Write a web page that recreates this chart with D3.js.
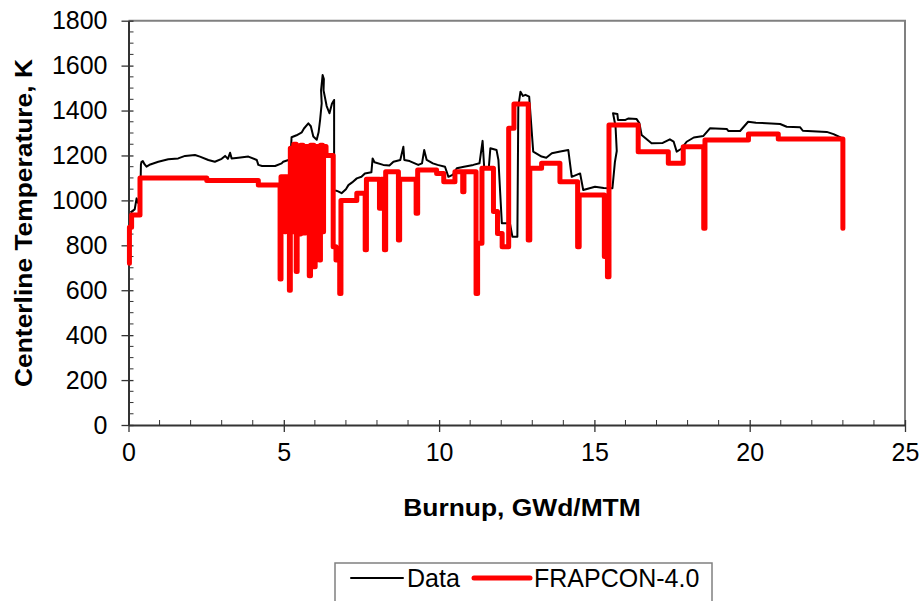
<!DOCTYPE html>
<html>
<head>
<meta charset="utf-8">
<script src="https://cdn.jsdelivr.net/npm/d3@7"></script>
<style>
  html, body { margin: 0; padding: 0; background: #fff; }
  svg { display: block; font-family: "Liberation Sans", Arial, sans-serif; }
</style>
</head>
<body>
<svg id="chart" width="923" height="601"></svg>
<script>
// ---------------- DATA ----------------
const xTicks = [0, 5, 10, 15, 20, 25];
const yTicks = [0, 200, 400, 600, 800, 1000, 1200, 1400, 1600, 1800];
const seriesNames = ["Data", "FRAPCON-4.0"];

// Measured centerline temperature (burnup GWd/MTM, K)
const dataBurnup = [0.08,0.10,0.2,0.26,0.3,0.38,0.40,0.42,0.46,0.52,0.58,0.7,0.96,1.28,1.6,1.82,2.14,2.3,2.57,2.78,3.0,3.11,3.2,3.27,3.32,3.54,3.86,4.13,4.18,4.3,4.72,4.93,4.98,5.15,5.22,5.25,5.41,5.58,5.65,5.79,5.87,5.95,6.06,6.12,6.17,6.22,6.20,6.25,6.29,6.28,6.38,6.47,6.55,6.62,6.62,6.75,6.86,7.0,7.08,7.2,7.35,7.5,7.61,7.82,7.86,7.92,8.2,8.4,8.53,8.75,8.85,8.88,9.05,9.33,9.45,9.52,9.6,9.8,9.95,10.19,10.3,10.45,10.57,10.8,11.1,11.3,11.4,11.45,11.6,11.65,11.85,11.91,12.02,12.28,12.36,12.52,12.55,12.62,12.70,12.78,12.90,13.03,13.3,13.45,13.63,13.9,14.16,14.27,14.54,14.64,15.02,15.3,15.58,15.66,15.72,15.68,15.6,15.74,15.76,16.0,16.1,16.36,16.45,16.52,16.84,17.2,17.43,17.55,17.65,17.8,17.97,18.2,18.51,18.72,19.26,19.31,19.69,19.95,20.2,20.98,21.19,21.62,21.71,22.48,22.7,22.91,23.0];
const dataTemp = [930,950,960,1009,990,1000,1160,1172,1175,1160,1150,1160,1172,1183,1187,1198,1202,1195,1180,1172,1185,1198,1185,1212,1187,1190,1195,1180,1158,1153,1153,1165,1172,1180,1195,1281,1290,1303,1320,1343,1330,1284,1270,1303,1360,1432,1490,1558,1540,1490,1420,1388,1430,1447,1046,1040,1032,1050,1068,1080,1098,1105,1120,1125,1187,1170,1158,1155,1172,1180,1239,1180,1175,1158,1165,1224,1180,1165,1158,1150,1105,1115,1143,1150,1158,1165,1265,1150,1145,1232,1224,1180,898,898,838,838,1417,1484,1465,1470,1462,1217,1195,1190,1210,1218,1224,1105,1120,1046,1061,1055,1054,1170,1220,1330,1388,1385,1358,1358,1365,1362,1343,1291,1254,1256,1272,1262,1217,1230,1261,1280,1287,1321,1318,1309,1309,1350,1346,1340,1328,1326,1310,1305,1295,1281,1275];

// FRAPCON-4.0 prediction (step-wise)
const fcBurnup = [0.03,0.03,0.1,0.1,0.37,0.37,2.52,2.52,4.18,4.18,4.88,4.88,4.91,4.91,5.03,5.03,5.06,5.06,5.18,5.18,5.21,5.21,5.29,5.29,5.32,5.32,5.40,5.40,5.43,5.43,5.50,5.50,5.54,5.54,5.62,5.62,5.70,5.70,5.82,5.82,5.86,5.86,5.97,5.97,6.01,6.01,6.15,6.15,6.18,6.18,6.25,6.25,6.28,6.28,6.36,6.36,6.59,6.59,6.68,6.68,6.80,6.80,6.84,6.84,7.35,7.35,7.62,7.62,7.66,7.66,8.08,8.08,8.14,8.14,8.24,8.24,8.28,8.28,8.69,8.69,8.73,8.73,9.26,9.26,9.31,9.31,9.92,9.92,10.15,10.15,10.51,10.51,10.76,10.76,10.80,10.80,11.19,11.19,11.24,11.24,11.38,11.38,11.75,11.75,11.88,11.88,12.03,12.03,12.24,12.24,12.41,12.41,12.87,12.87,12.92,12.92,13.30,13.30,13.89,13.89,14.46,14.46,14.51,14.51,15.32,15.32,15.42,15.42,15.47,15.47,16.41,16.41,17.38,17.38,17.86,17.86,18.52,18.52,18.56,18.56,19.96,19.96,20.92,20.92,23.0,23.0];
const fcTemp = [720,880,880,935,935,1100,1100,1088,1088,1068,1068,650,650,1105,1105,860,860,1105,1105,600,600,1232,1232,860,860,1250,1250,683,683,1240,1240,850,850,1245,1245,855,855,1240,1240,665,665,1245,1245,705,705,1240,1240,735,735,1245,1245,860,860,1240,1240,1200,1200,794,794,735,735,586,586,1000,1000,1032,1032,780,780,1094,1094,965,965,1094,1094,780,780,1128,1128,824,824,1094,1094,943,943,1135,1135,1120,1120,1083,1083,1128,1128,1039,1039,1128,1128,586,586,809,809,1143,1143,950,950,853,853,794,794,1321,1321,1429,1429,824,824,1143,1143,1165,1165,1083,1083,794,794,1024,1024,750,750,660,660,1336,1336,1217,1217,1165,1165,1239,1239,876,876,1269,1269,1296,1296,1273,1273,876];

// ---------------- CHART ----------------
const svg = d3.select("#chart");
const x = d3.scaleLinear().domain([0, 25]).range([128.5, 905]);
const y = d3.scaleLinear().domain([0, 1800]).range([425, 20.7]);

// plot area border (top/right gray)
svg.append("path")
  .attr("d", `M${x(0)},${y(1800)}H${x(25)}V${y(0)}`)
  .attr("fill", "none").attr("stroke", "#808080").attr("stroke-width", 2);

// minor ticks
const xMinor = d3.range(0, 26, 1).filter(v => v % 5 !== 0);
const yMinor = d3.range(0, 1801, 50).filter(v => v % 200 !== 0);

const xAxis = svg.append("g").attr("transform", `translate(0,${y(0)})`);
xAxis.selectAll("line.minor").data(xMinor).join("line")
  .attr("x1", d => x(d)).attr("x2", d => x(d)).attr("y1", 0).attr("y2", -5)
  .attr("stroke", "#333").attr("stroke-width", 1);
xAxis.call(d3.axisBottom(x).tickValues(xTicks).tickSizeInner(7).tickSizeOuter(0).tickPadding(11).tickFormat(d3.format("d")));
xAxis.selectAll(".tick line").attr("y1", -5).attr("stroke", "#333").attr("stroke-width", 1.3);
xAxis.select(".domain").attr("stroke", "#333").attr("stroke-width", 2);
xAxis.selectAll(".tick text").attr("font-size", 25).attr("fill", "#000").attr("font-family", "Liberation Sans, Arial, sans-serif");

const yAxis = svg.append("g").attr("transform", `translate(${x(0)},0)`);
yAxis.selectAll("line.minor").data(yMinor).join("line")
  .attr("x1", 0).attr("x2", 5).attr("y1", d => y(d)).attr("y2", d => y(d))
  .attr("stroke", "#333").attr("stroke-width", 1);
yAxis.call(d3.axisLeft(y).tickValues(yTicks).tickSizeInner(7).tickSizeOuter(0).tickPadding(14).tickFormat(d3.format("d")));
yAxis.selectAll(".tick line").attr("x1", 5).attr("stroke", "#333").attr("stroke-width", 1.3);
yAxis.select(".domain").attr("stroke", "#333").attr("stroke-width", 2);
yAxis.selectAll(".tick text").attr("font-size", 25).attr("fill", "#000").attr("font-family", "Liberation Sans, Arial, sans-serif");

// lines
const line = d3.line().x(d => x(d[0])).y(d => y(d[1]));
const dataPts = dataBurnup.map((b, i) => [b, dataTemp[i]]);
const fcPts = fcBurnup.map((b, i) => [b, fcTemp[i]]);

svg.append("path").datum(dataPts).attr("d", line)
  .attr("fill", "none").attr("stroke", "#000").attr("stroke-width", 2).attr("stroke-linejoin", "round");
svg.append("path").datum(fcPts).attr("d", line)
  .attr("fill", "none").attr("stroke", "#ff0000").attr("stroke-width", 5).attr("stroke-linejoin", "round").attr("stroke-linecap", "round");

// axis titles
svg.append("text")
  .attr("transform", "translate(522,516) scale(1.1,1)").attr("text-anchor", "middle")
  .attr("font-size", 24).attr("font-weight", "bold")
  .text("Burnup, GWd/MTM");
svg.append("text")
  .attr("transform", "translate(32,223) rotate(-90) scale(1.1,1)").attr("text-anchor", "middle")
  .attr("font-size", 24).attr("font-weight", "bold")
  .text("Centerline Temperature, K");

// legend
const lg = svg.append("g");
lg.append("rect").attr("x", 335).attr("y", 563).attr("width", 377).attr("height", 45)
  .attr("fill", "#fff").attr("stroke", "#808080").attr("stroke-width", 1.5);
const legendItems = [
  { name: seriesNames[0], color: "#000", w: 2, x0: 351, x1: 403, tx: 407 },
  { name: seriesNames[1], color: "#ff0000", w: 5, x0: 474, x1: 530, tx: 534 }
];
legendItems.forEach(it => {
  lg.append("line").attr("x1", it.x0).attr("x2", it.x1).attr("y1", 578).attr("y2", 578)
    .attr("stroke", it.color).attr("stroke-width", it.w).attr("stroke-linecap", "round");
  lg.append("text").attr("x", it.tx).attr("y", 587).attr("font-size", 25).text(it.name);
});
</script>
</body>
</html>
